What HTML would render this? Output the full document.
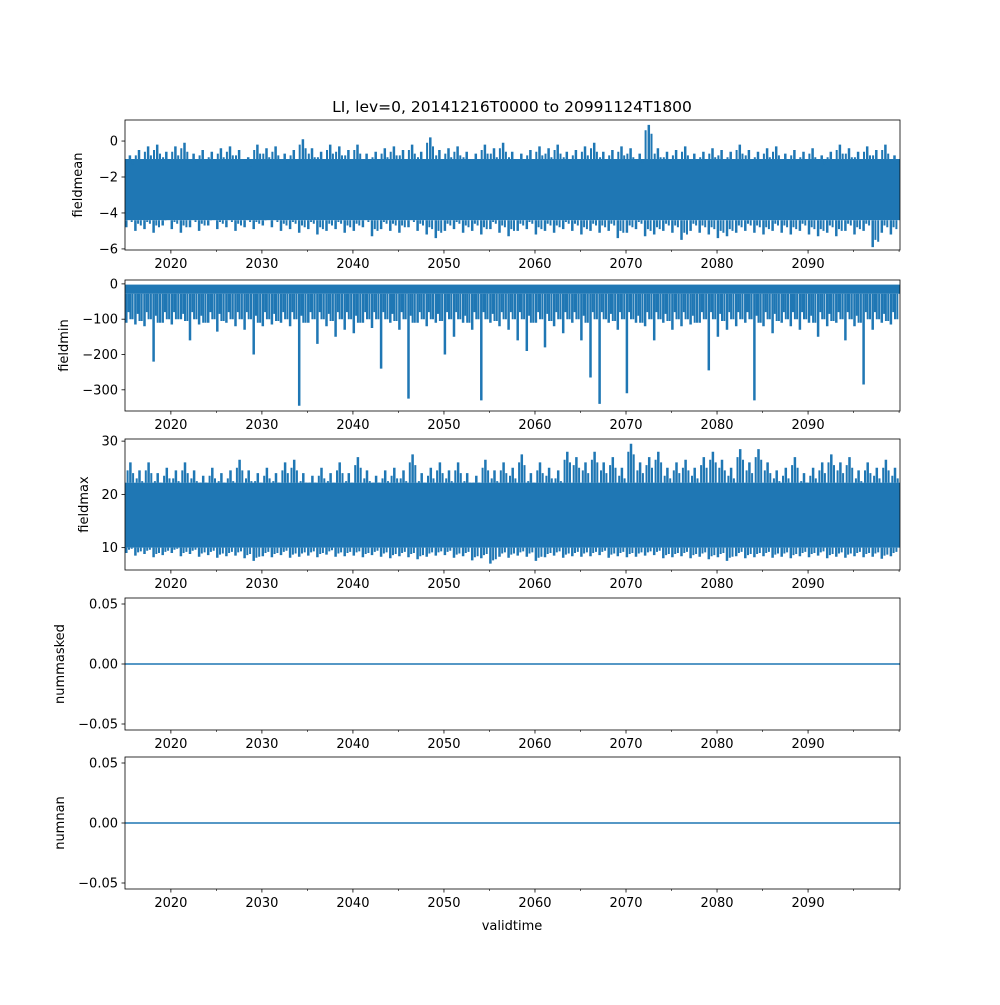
<!DOCTYPE html>
<html><head><meta charset="utf-8"><style>
body{margin:0;background:#fff}
svg text{font-family:"DejaVu Sans","Liberation Sans",sans-serif;fill:#000}
</style></head><body>
<svg id="fig" width="1000" height="1000" xmlns="http://www.w3.org/2000/svg">
<rect width="1000" height="1000" fill="#fff"/>
<text x="512" y="112" font-size="15.5" text-anchor="middle">LI, lev=0, 20141216T0000 to 20991124T1800</text>
<text x="512" y="930" font-size="13" text-anchor="middle">validtime</text>
</svg>
<script>
const majorYears=[2020,2030,2040,2050,2060,2070,2080,2090];
const minorYears=[2025,2035,2045,2055,2065,2075,2085,2095,2100];
const fmCore=[-1.0,-4.4];
const fmHi=[-0.8,-0.5,-0.3,-0.2,-0.6,-0.3,-0.1,-0.7,-0.5,-0.6,-0.4,-0.3,-0.5,-0.9,-0.2,-0.4,-0.3,-0.7,-0.5,0.1,-0.4,-0.6,-0.2,-0.3,-0.5,-0.2,-0.7,-0.6,-0.4,-0.3,-0.5,-0.2,-0.6,0.2,-0.5,-0.4,-0.3,-0.6,-0.7,-0.2,-0.4,-0.1,-0.6,-0.7,-0.5,-0.3,-0.4,-0.2,-0.6,-0.5,-0.3,-0.1,-0.6,-0.5,-0.3,-0.4,-0.7,0.9,-0.4,-0.6,-0.5,-0.3,-0.7,-0.6,-0.4,-0.5,-0.6,-0.2,-0.5,-0.6,-0.4,-0.3,-0.7,-0.5,-0.6,-0.4,-0.8,-0.6,-0.2,-0.4,-0.6,-0.3,-0.5,-0.2,-0.8];
const fmLo=[-4.8,-5.0,-4.9,-5.1,-4.7,-4.9,-5.1,-4.8,-5.0,-4.7,-4.9,-4.8,-5.0,-4.8,-4.9,-4.7,-4.8,-5.0,-4.9,-5.1,-4.9,-5.2,-5.0,-4.9,-5.1,-5.0,-4.8,-5.3,-4.9,-5.0,-5.1,-4.8,-5.0,-5.2,-5.4,-5.0,-4.9,-5.1,-5.0,-5.2,-4.9,-5.1,-5.3,-5.0,-4.9,-5.2,-5.0,-5.1,-4.9,-5.0,-5.2,-5.0,-5.1,-5.0,-5.4,-5.1,-4.9,-5.3,-5.2,-5.0,-5.1,-5.5,-5.0,-5.1,-5.2,-5.4,-5.3,-5.1,-5.0,-5.1,-5.2,-5.0,-5.1,-5.2,-5.0,-5.2,-5.3,-5.1,-5.3,-5.0,-5.2,-5.0,-5.9,-5.1,-5.2];
const fnCore=[-2,-28];
const fnLo=[-110,-115,-120,-220,-110,-115,-100,-160,-115,-110,-135,-110,-120,-130,-200,-120,-115,-110,-120,-345,-110,-170,-120,-150,-130,-140,-110,-125,-240,-110,-130,-325,-110,-120,-110,-200,-150,-110,-130,-330,-110,-120,-130,-160,-190,-110,-180,-120,-140,-110,-160,-265,-340,-110,-130,-310,-110,-120,-160,-110,-130,-120,-115,-110,-245,-150,-130,-120,-110,-330,-120,-140,-110,-120,-130,-110,-150,-120,-110,-160,-120,-285,-130,-110,-115];
const fnMid=[-100,-105,-100,-110,-100,-100,-105,-100,-110,-100,-105,-100,-100,-100,-110,-100,-105,-100,-100,-110,-100,-100,-105,-100,-100,-110,-100,-100,-100,-105,-100,-110,-100,-100,-105,-100,-100,-110,-100,-100,-105,-100,-100,-100,-110,-100,-105,-100,-100,-100,-110,-100,-100,-105,-100,-100,-110,-100,-100,-105,-100,-100,-110,-100,-100,-105,-100,-100,-100,-110,-100,-105,-100,-100,-100,-110,-100,-105,-100,-100,-110,-100,-100,-105,-100];
const fxCore=[10,22.2];
const fxHi=[26,24.5,26,24,25,24.5,26,24.5,23.5,25,24,24.5,26.5,24.5,24,25,24,26,26.5,24,23.5,25,24,26,24,27,24.5,23.5,24.5,25,24.5,27.5,24,25,26,24.5,26,24,23.5,26.5,24.5,26,25,27.5,24,26,25,24.5,28,27,26,28,26,27,25,29.5,26,27,28,25,26,26.5,25,27,28,26.5,25,28.5,26,28.5,26,24.5,25,27,24,25,26,27.5,26,27,24.5,26,25,26.5,25];
const fxLo=[9,8.5,8.8,8.2,8.6,9,8.4,8.8,8.3,8.6,8.1,8.4,8.5,8,7.5,8.4,8.2,8.6,8.1,8.3,8.5,8.2,8.7,8.3,8.4,8.5,8.2,8.6,8.3,8,8.4,8.2,7.8,8.3,8.5,8.6,8.1,8.4,7.6,8,7,8.3,8.1,8.5,8.3,7.5,8.2,8.5,8.1,8.4,8.3,8.4,8.6,8.1,8.4,8.2,8.3,8.5,8.6,8,8.2,8.4,8,8.3,7.8,8.2,7.5,8.4,8,8.2,8.4,8.1,8.3,8,8.4,8.2,8.5,8,8.3,8.1,8.4,8.2,8.3,7.9,8.4];
const nmVals=[0,0];
const nnVals=[0,0];

const NS="http://www.w3.org/2000/svg";
const svg=document.getElementById('fig');
const X0=125,X1=900,D0=2014.96,D1=2100.1;
const xs=v=>X0+(v-D0)/(D1-D0)*(X1-X0);
const C="#1f77b4";
function mk(tag,attrs,parent){const e=document.createElementNS(NS,tag);for(const k in attrs)e.setAttribute(k,attrs[k]);(parent||svg).appendChild(e);return e;}

const panels=[
 {name:'fieldmean',top:120,bot:250,y0:-6.06,y1:1.17,ticks:[0,-2,-4,-6],lx:82},
 {name:'fieldmin',top:280,bot:411,y0:-360,y1:11,ticks:[0,-100,-200,-300],lx:68},
 {name:'fieldmax',top:439,bot:570,y0:5.8,y1:30.4,ticks:[30,20,10],lx:88},
 {name:'nummasked',top:598,bot:730,y0:-0.055,y1:0.055,ticks:[0.05,0,-0.05],lx:64},
 {name:'numnan',top:757,bot:889,y0:-0.055,y1:0.055,ticks:[0.05,0,-0.05],lx:64}
];
panels.forEach((p,pi)=>{
 const g=mk('g',{});
 
 
 const ys=v=>p.bot-(v-p.y0)/(p.y1-p.y0)*(p.bot-p.top);
 const clip=mk('clipPath',{id:'c'+pi},g);
 mk('rect',{x:X0,y:p.top,width:X1-X0,height:p.bot-p.top},clip);
 const dg=mk('g',{'clip-path':'url(#c'+pi+')'},g);
 
 
 function band(core){
  const a=ys(core[0]),b=ys(core[1]);
  mk('rect',{x:X0,y:Math.min(a,b),width:X1-X0,height:Math.abs(b-a),fill:C},dg);
 }
 function spikes(arr,base,off,w){
  let d='';
  arr.forEach((v,i)=>{const yr=2015+i+off;if(yr>D1)return;const x=xs(yr);d+='M'+x.toFixed(1)+','+ys(base).toFixed(1)+'V'+ys(v).toFixed(1);});
  mk('path',{d:d,stroke:C,'stroke-width':w,fill:'none'},dg);
 }
 if(pi===0){band(fmCore);spikes(fmHi,fmCore[0],0.5,2.5);spikes(fmHi.map(v=>v-0.3),fmCore[0],0.15,2);spikes(fmHi.map(v=>v-0.5),fmCore[0],0.8,2);spikes(fmLo,fmCore[1],0.1,2.5);spikes(fmLo.map(v=>v+0.3),fmCore[1],0.7,2);spikes(fmLo.map(v=>v+0.4),fmCore[1],0.4,2);}
 if(pi===1){band(fnCore);spikes(fnLo,fnCore[1],0.1,2.5);spikes(fnMid,fnCore[1],0.55,2);spikes(fnMid,fnCore[1],0.8,2);spikes(fnMid.map(v=>v+20),fnCore[1],0.35,2);}
 if(pi===2){band(fxCore);spikes(fxHi,fxCore[1],0.55,2.5);spikes(fxHi.map(v=>v-1.5),fxCore[1],0.25,2);spikes(fxHi.map(v=>v-2),fxCore[1],0.85,2);spikes(fxLo,fxCore[0],0.1,2.5);spikes(fxLo.map(v=>v+0.8),fxCore[0],0.7,2);spikes(fxLo.map(v=>v+0.6),fxCore[0],0.4,2);}
 if(pi>=3){const v=pi===3?nmVals:nnVals;mk('line',{x1:X0,x2:X1,y1:ys(v[0]),y2:ys(v[1]),stroke:C,'stroke-width':1.5},dg);}
 const fr=mk('rect',{x:X0,y:p.top,width:X1-X0,height:p.bot-p.top,fill:'none',stroke:'#000','stroke-width':0.8},g);
 
 
 p.ticks.forEach(t=>{const y=ys(t);mk('line',{x1:X0-3.5,x2:X0,y1:y,y2:y,stroke:'#000','stroke-width':0.8},g);
  const tx=mk('text',{x:X0-7,y:y+4.5,'font-size':13,'text-anchor':'end'},g);tx.textContent=(t===0&&pi>=3)?'0.00':(pi>=3?t.toFixed(2).replace('-','−'):String(t).replace('-','−'));
  });
 majorYears.forEach(yr=>{const x=xs(yr);mk('line',{x1:x,x2:x,y1:p.bot,y2:p.bot+3.5,stroke:'#000','stroke-width':0.8},g);
  const tx=mk('text',{x:x,y:p.bot+18,'font-size':13,'text-anchor':'middle'},g);tx.textContent=yr;
  });
 minorYears.forEach(yr=>{const x=xs(yr);if(x>X1+1)return;mk('line',{x1:x,x2:x,y1:p.bot,y2:p.bot+2,stroke:'#000','stroke-width':0.6},g);});
 const yl=mk('text',{x:p.lx,y:(p.top+p.bot)/2,'font-size':13,'text-anchor':'middle',transform:'rotate(-90 '+p.lx+' '+((p.top+p.bot)/2)+')'},g);
 yl.textContent=p.name;
 
 
});
</script>
</body></html>
